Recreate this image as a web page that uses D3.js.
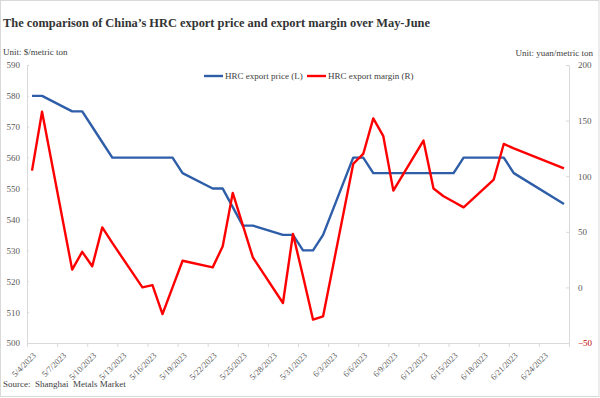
<!DOCTYPE html>
<html><head><meta charset="utf-8">
<script src="https://cdn.jsdelivr.net/npm/d3@7"></script>
<style>
html,body{margin:0;padding:0;background:#fff;}
svg{display:block;}
text{font-family:"Liberation Serif","Times New Roman",serif;}
</style></head>
<body>
<svg id="chart" width="600" height="398"></svg>
<script>
const dates = ["2023-05-04","2023-05-05","2023-05-08","2023-05-09","2023-05-10","2023-05-11","2023-05-12",
"2023-05-15","2023-05-16","2023-05-17","2023-05-18","2023-05-19","2023-05-22","2023-05-23","2023-05-24",
"2023-05-25","2023-05-26","2023-05-29","2023-05-30","2023-05-31","2023-06-01","2023-06-02","2023-06-05",
"2023-06-06","2023-06-07","2023-06-08","2023-06-09","2023-06-12","2023-06-13","2023-06-14","2023-06-15",
"2023-06-16","2023-06-19","2023-06-20","2023-06-21","2023-06-26"];
const exportPrice = [580,580,575,575,570,565,560,560,560,560,560,555,550,550,544,538,538,535,535,530,530,535,560,
560,555,555,555,555,555,555,555,560,560,560,555,545];
const exportMargin = [105,158,16,32,19,54,40,0,2,-24,0,24,18,37,85,56,27,-14,48,10,-29,-26,111,
120,152,136,87,132,89,82,77,72,97,129,125,107];
const xTickLabels = ["5/4/2023","5/7/2023","5/10/2023","5/13/2023","5/16/2023","5/19/2023","5/22/2023",
"5/25/2023","5/28/2023","5/31/2023","6/3/2023","6/6/2023","6/9/2023","6/12/2023","6/15/2023","6/18/2023",
"6/21/2023","6/24/2023"];
const leftTicks = [500,510,520,530,540,550,560,570,580,590];
const rightTicks = [-50,0,50,100,150,200];
const seriesNames = ["HRC export price (L)","HRC export margin (R)"];
const titleText = "The comparison of China\u2019s HRC export price and export margin over May-June";

(function(){
const svg = d3.select("#chart");
const W = 600, H = 398;
const pLeft = 27, pRight = 569, pTop = 65, pBottom = 343;
const HALF = 12*3600*1000;
const parse = s => { const [y,m,d] = s.split("-").map(Number); return new Date(Date.UTC(y,m-1,d)); };
const parseLabel = s => { const [m,d,y] = s.split("/").map(Number); return new Date(Date.UTC(y,m-1,d)); };
const dts = dates.map(parse);

const x = d3.scaleUtc()
  .domain([new Date(+dts[0]-HALF), new Date(+dts[dts.length-1]+HALF)])
  .range([pLeft, pRight]);
const yL = d3.scaleLinear().domain([500,590]).range([pBottom, pTop]);
const yR = d3.scaleLinear().domain([-50,200]).range([pBottom, pTop]);

// border
svg.append("rect").attr("x",0.5).attr("y",0.5).attr("width",W-1.5).attr("height",H-2)
  .attr("fill","#fff").attr("stroke","#d9d9d9");

// title
svg.append("text").attr("x",3).attr("y",27).attr("font-size",13.5).attr("font-weight","bold")
  .attr("fill","#333").attr("textLength",427).attr("lengthAdjust","spacingAndGlyphs").text(titleText);

svg.append("text").attr("x",3).attr("y",55).attr("font-size",9).attr("fill","#404040").text("Unit: $/metric ton");
svg.append("text").attr("x",593).attr("y",56).attr("font-size",9).attr("fill","#404040")
  .attr("text-anchor","end").text("Unit: yuan/metric ton");

const axisColor = "#d9d9d9", labelColor = "#595959";

// left axis
const gL = svg.append("g").attr("transform",`translate(${pLeft},0)`)
  .call(d3.axisLeft(yL).tickValues(leftTicks).tickSize(-2).tickPadding(7).tickFormat(d3.format("d")));
gL.select(".domain").attr("stroke",axisColor);
gL.selectAll(".tick line").attr("stroke",axisColor);
gL.selectAll(".tick text").attr("fill",labelColor).attr("font-size",9).attr("font-family","Liberation Serif");

// right axis
const gR = svg.append("g").attr("transform",`translate(${pRight},0)`)
  .call(d3.axisRight(yR).tickValues(rightTicks).tickSize(-3).tickPadding(9).tickFormat(d3.format("d")));
gR.select(".domain").attr("stroke",axisColor);
gR.selectAll(".tick line").attr("stroke",axisColor);
gR.selectAll(".tick text").attr("fill",d => d < 0 ? "#c00000" : labelColor).attr("font-size",9).attr("font-family","Liberation Serif");

// bottom axis
const tickDates = xTickLabels.map(s => new Date(+parseLabel(s)-HALF));
const fmtMap = new Map(tickDates.map((d,i)=>[+d, xTickLabels[i]]));
const gB = svg.append("g").attr("transform",`translate(0,${pBottom})`)
  .call(d3.axisBottom(x).tickValues(tickDates).tickSize(4).tickFormat(d => fmtMap.get(+d)));
gB.select(".domain").attr("stroke",axisColor);
gB.selectAll(".tick line").attr("stroke",axisColor);
gB.selectAll(".tick text").attr("fill",labelColor).attr("font-size",8.5).attr("font-family","Liberation Serif")
  .attr("text-anchor","end").attr("dy","0.35em")
  .attr("transform","translate(7,11) rotate(-45)").attr("y",0).attr("x",0);

// lines
const lineL = d3.line().x((d,i)=>x(dts[i])).y(d=>yL(d));
const lineR = d3.line().x((d,i)=>x(dts[i])).y(d=>yR(d));
const blue = "#2f5ea9", red = "#ff0000";
svg.append("path").datum(exportPrice).attr("d",lineL).attr("fill","none").attr("stroke",blue)
  .attr("stroke-width",2.4).attr("stroke-linejoin","round");
svg.append("path").datum(exportMargin).attr("d",lineR).attr("fill","none").attr("stroke",red)
  .attr("stroke-width",2.4).attr("stroke-linejoin","round");

// legend
const leg = [{name:seriesNames[0],c:blue,x1:204,x2:223,tx:225},{name:seriesNames[1],c:red,x1:307,x2:326,tx:328}];
leg.forEach(l=>{
  svg.append("line").attr("x1",l.x1).attr("x2",l.x2).attr("y1",76).attr("y2",76).attr("stroke",l.c).attr("stroke-width",2.4);
  svg.append("text").attr("x",l.tx).attr("y",79).attr("font-size",9).attr("fill","#404040").text(l.name);
});

// source
svg.append("text").attr("x",3).attr("y",387).attr("font-size",9).attr("fill","#404040")
  .attr("xml:space","preserve").text("Source:  Shanghai  Metals Market");
})();
</script>
</body></html>
